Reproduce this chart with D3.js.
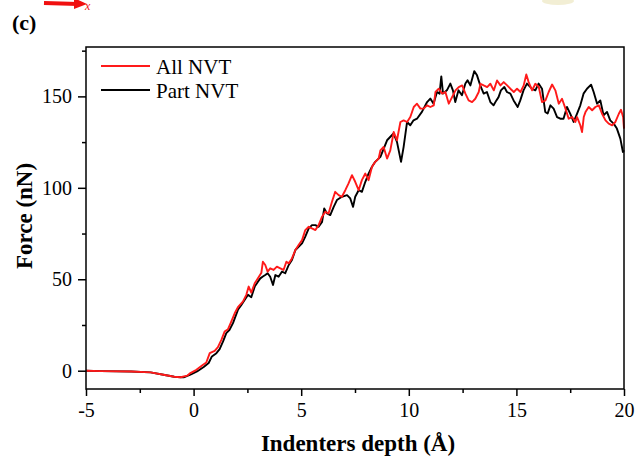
<!DOCTYPE html>
<html>
<head>
<meta charset="utf-8">
<script src="https://cdn.jsdelivr.net/npm/d3@7"></script>
<style>
  body { margin: 0; background: #fff; }
  text { font-family: "Liberation Serif", "Times New Roman", serif; }
</style>
</head>
<body>
<svg id="chart" width="635" height="457"></svg>
<script>
// values: [depth (Å), force (nN)]
const allNVT = [
  [-5, 0], [-4.3, -0.2], [-2.9, -0.4], [-2.0, -0.9], [-1.4, -2.2], [-0.9, -3.3], [-0.6, -3.6],
  [-0.3, -2.7], [-0.15, -1.3], [0.13, 0.5], [0.44, 3.3], [0.59, 4.5], [0.75, 9.6], [0.98, 10.9],
  [1.13, 12.9], [1.29, 16.9], [1.44, 21.4], [1.6, 22.7], [1.75, 26.9], [1.91, 31.4], [2.06, 34.7],
  [2.29, 37.8], [2.45, 41.5], [2.56, 46.0], [2.68, 42.7], [2.84, 47.8], [2.99, 50.6], [3.15, 53.6],
  [3.22, 59.6], [3.33, 57.8], [3.44, 54.2], [3.56, 56.0], [3.72, 55.1], [3.87, 56.9], [4.03, 56.0],
  [4.18, 55.1], [4.31, 59.6], [4.42, 58.7], [4.57, 61.4], [4.73, 66.0], [4.88, 68.7], [5.04, 71.4],
  [5.19, 76.9], [5.35, 78.7], [5.5, 77.8], [5.66, 76.9], [5.81, 79.6], [5.97, 84.2], [6.12, 86.9],
  [6.27, 86.0], [6.43, 92.4], [6.58, 97.8], [6.74, 96.0], [6.89, 95.1], [7.05, 98.7], [7.2, 102.4],
  [7.36, 106.9], [7.51, 103.3], [7.67, 98.7], [7.82, 104.2], [7.98, 107.8], [8.13, 104.2],
  [8.29, 111.5], [8.44, 114.2], [8.6, 116.0], [8.68, 120.5], [8.83, 122.3], [8.99, 116.0],
  [9.14, 120.5], [9.3, 130.5], [9.45, 126.0], [9.61, 136.0], [9.76, 136.9], [9.92, 136.0],
  [10.07, 138.7], [10.23, 144.2], [10.38, 146.0], [10.54, 143.3], [10.69, 143.3], [10.85, 145.1],
  [11.0, 144.2], [11.16, 145.1], [11.24, 152.4], [11.39, 154.2], [11.55, 151.5], [11.7, 152.4],
  [11.86, 146.0], [12.01, 149.6], [12.17, 153.3], [12.32, 155.1], [12.48, 156.0], [12.63, 151.5],
  [12.78, 147.8], [12.94, 146.9], [13.09, 148.7], [13.25, 152.4], [13.33, 156.9], [13.48, 156.0],
  [13.64, 155.1], [13.79, 156.9], [13.95, 153.3], [14.1, 158.7], [14.26, 156.0], [14.41, 157.8],
  [14.57, 156.0], [14.72, 154.2], [14.88, 152.4], [15.03, 154.2], [15.19, 152.4], [15.34, 156.0],
  [15.46, 162.0], [15.57, 157.8], [15.73, 153.3], [15.88, 156.9], [16.04, 155.1], [16.19, 146.9],
  [16.35, 147.8], [16.5, 152.4], [16.66, 156.5], [16.81, 153.3], [16.97, 146.0], [17.12, 148.7],
  [17.28, 143.3], [17.43, 137.8], [17.59, 138.7], [17.74, 136.0], [17.82, 138.7], [17.97, 134.2],
  [18.05, 130.5], [18.13, 138.7], [18.21, 141.4], [18.36, 144.2], [18.52, 142.4], [18.67, 144.2],
  [18.83, 145.1], [18.98, 140.5], [19.14, 136.9], [19.29, 135.1], [19.45, 134.2], [19.6, 136.0],
  [19.76, 140.5], [19.86, 142.7], [19.96, 138.7], [20.0, 132.4]
];

const partNVT = [
  [-5, 0], [-4.3, -0.2], [-2.9, -0.4], [-2.0, -0.9], [-1.4, -2.2], [-0.9, -3.3], [-0.6, -3.6],
  [-0.46, -3.6], [-0.15, -2.2], [0.16, -0.4], [0.47, 2.0], [0.7, 4.2], [0.85, 7.8], [1.06, 9.6],
  [1.21, 11.8], [1.37, 16.0], [1.52, 20.5], [1.67, 22.4], [1.83, 26.0], [2.06, 33.3], [2.22, 36.0],
  [2.37, 38.7], [2.53, 41.5], [2.68, 40.2], [2.84, 46.0], [2.99, 48.7], [3.1, 50.5], [3.22, 51.5],
  [3.33, 52.3], [3.44, 53.3], [3.56, 51.4], [3.69, 46.9], [3.8, 52.3], [3.95, 51.4], [4.11, 54.2],
  [4.26, 53.3], [4.42, 57.8], [4.57, 60.5], [4.73, 66.0], [4.88, 67.8], [5.04, 69.6], [5.19, 73.3],
  [5.35, 77.8], [5.5, 79.6], [5.66, 79.6], [5.81, 78.7], [5.97, 81.4], [6.07, 88.7], [6.2, 86.0],
  [6.35, 85.1], [6.51, 89.6], [6.66, 93.3], [6.89, 95.1], [7.13, 96.0], [7.28, 94.2], [7.41, 89.6],
  [7.51, 95.1], [7.67, 98.7], [7.82, 97.8], [7.98, 103.3], [8.13, 107.8], [8.29, 111.5],
  [8.44, 114.2], [8.68, 116.9], [8.99, 126.0], [9.29, 129.7], [9.45, 125.1], [9.64, 114.2],
  [9.76, 122.4], [9.92, 136.0], [10.07, 134.2], [10.22, 136.9], [10.38, 137.8], [10.61, 141.5],
  [10.85, 146.9], [11.0, 148.8], [11.15, 146.0], [11.31, 152.4], [11.43, 151.5], [11.51, 160.9],
  [11.59, 151.5], [11.77, 153.3], [11.93, 157.0], [12.05, 153.3], [12.16, 146.9], [12.31, 153.3],
  [12.47, 150.6], [12.63, 157.0], [12.73, 158.8], [12.86, 156.0], [13.04, 163.8], [13.17, 161.5],
  [13.32, 156.0], [13.48, 151.5], [13.63, 152.4], [13.79, 146.9], [13.94, 145.1], [14.07, 147.8],
  [14.17, 149.6], [14.28, 153.3], [14.44, 155.1], [14.56, 152.4], [14.72, 151.5], [14.87, 147.8],
  [15.06, 144.2], [15.18, 147.8], [15.33, 153.3], [15.49, 157.0], [15.72, 154.2], [15.88, 153.3],
  [16.03, 157.0], [16.19, 154.2], [16.34, 141.5], [16.45, 140.6], [16.58, 145.1], [16.73, 143.3],
  [16.89, 138.7], [17.04, 137.8], [17.19, 137.8], [17.35, 144.2], [17.5, 140.6], [17.66, 136.0],
  [17.82, 140.6], [17.97, 145.1], [18.12, 151.5], [18.28, 154.2], [18.47, 156.4], [18.59, 152.4],
  [18.75, 146.0], [18.9, 147.8], [19.05, 139.7], [19.21, 141.5], [19.36, 136.9], [19.52, 135.1],
  [19.67, 132.4], [19.83, 126.9], [19.95, 119.6], [20.0, 120.6]
];

const xMajor = [-5, 0, 5, 10, 15, 20];
const xMinor = [-2.5, 2.5, 7.5, 12.5, 17.5];
const yMajor = [0, 50, 100, 150];
const yMinor = [25, 75, 125, 175];

const svg = d3.select('#chart');
const RED = '#ff1a1a', BLACK = '#000';

const mLeft = 86, mRight = 624, mTop = 47, mBottom = 389;
const xScale = d3.scaleLinear().domain([-5, 20]).range([mLeft, mRight]);
const yScale = d3.scaleLinear().domain([-10, 177]).range([mBottom, mTop]);

// bits of the neighbouring panel cut off at the top
svg.append('line').attr('x1', 44).attr('y1', 3).attr('x2', 78).attr('y2', 4)
  .attr('stroke', '#f01010').attr('stroke-width', 4);
svg.append('path').attr('d', 'M74,-2 L87,4 L74,9 Z').attr('fill', '#f01010');
svg.append('text').attr('x', 85).attr('y', 10).attr('font-size', 12)
  .attr('font-style', 'italic').attr('fill', '#f01010').text('x');
svg.append('ellipse').attr('cx', 558).attr('cy', 1).attr('rx', 16).attr('ry', 4)
  .attr('fill', '#e9e3b8').attr('opacity', 0.6);

svg.append('text').attr('x', 12).attr('y', 30)
  .attr('font-size', 22).attr('font-weight', 'bold').text('(c)');

// axes
const xAxis = d3.axisBottom(xScale).tickValues(xMajor).tickSize(7).tickPadding(7).tickFormat(d3.format('d'));
const xAxisMinor = d3.axisBottom(xScale).tickValues(xMinor).tickSize(4).tickFormat('');
const yAxis = d3.axisLeft(yScale).tickValues(yMajor).tickSize(8).tickPadding(6);
const yAxisMinor = d3.axisLeft(yScale).tickValues(yMinor).tickSize(4).tickFormat('');

function styleAxis(g) {
  g.select('.domain').remove();
  g.selectAll('line').attr('stroke', BLACK).attr('stroke-width', 1.5);
  g.selectAll('text').attr('font-size', 20).attr('fill', BLACK)
    .style('font-family', '"Liberation Serif", serif');
}

svg.append('g').attr('transform', `translate(0,${mBottom})`).call(xAxis).call(styleAxis);
svg.append('g').attr('transform', `translate(0,${mBottom})`).call(xAxisMinor).call(styleAxis);
svg.append('g').attr('transform', `translate(${mLeft},0)`).call(yAxis).call(styleAxis);
svg.append('g').attr('transform', `translate(${mLeft},0)`).call(yAxisMinor).call(styleAxis);

// plain hyphen for -5
svg.selectAll('.tick text').text(function () { return this.textContent.replace('−', '-'); });

// curves
const line = d3.line().x(d => xScale(d[0])).y(d => yScale(d[1]));

svg.append('path')
  .attr('d', line(partNVT))
  .attr('fill', 'none')
  .attr('stroke', BLACK)
  .attr('stroke-width', 1.9)
  .attr('stroke-linejoin', 'round');

svg.append('path')
  .attr('d', line(allNVT))
  .attr('fill', 'none')
  .attr('stroke', RED)
  .attr('stroke-width', 1.9)
  .attr('stroke-linejoin', 'round');

// frame
svg.append('rect')
  .attr('x', mLeft).attr('y', mTop)
  .attr('width', mRight - mLeft).attr('height', mBottom - mTop)
  .attr('fill', 'none').attr('stroke', BLACK).attr('stroke-width', 1.5);

// legend
const legend = [['All NVT', RED, 66], ['Part NVT', BLACK, 90]];
legend.forEach(([name, color, ly]) => {
  svg.append('line').attr('x1', 101).attr('x2', 150).attr('y1', ly).attr('y2', ly)
    .attr('stroke', color).attr('stroke-width', 1.8);
  svg.append('text').attr('x', 156).attr('y', ly + 8).attr('font-size', 21).text(name);
});

// axis titles
svg.append('text')
  .attr('x', 358).attr('y', 451)
  .attr('text-anchor', 'middle')
  .attr('font-size', 23).attr('font-weight', 'bold')
  .text('Indenters depth (Å)');

svg.append('text')
  .attr('transform', 'translate(32,216) rotate(-90)')
  .attr('text-anchor', 'middle')
  .attr('font-size', 23).attr('font-weight', 'bold')
  .text('Force (nN)');
</script>
</body>
</html>
